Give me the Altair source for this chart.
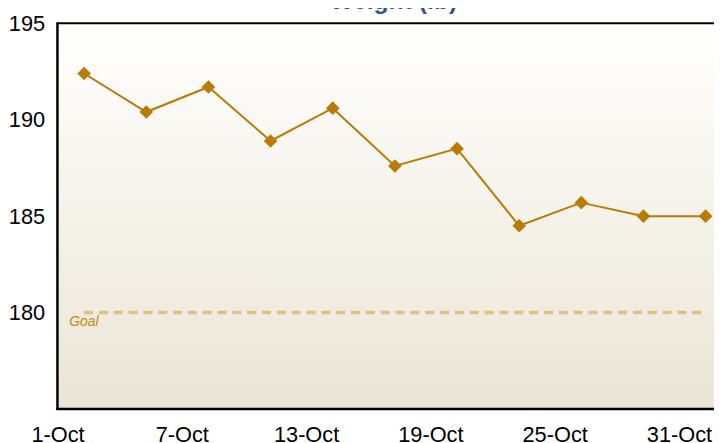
import altair as alt
import pandas as pd

# ---- data ----
dates = ["2023-10-02", "2023-10-05", "2023-10-08", "2023-10-11", "2023-10-14",
         "2023-10-17", "2023-10-20", "2023-10-23", "2023-10-26", "2023-10-29",
         "2023-11-01"]
weights = [192.4, 190.4, 191.7, 188.9, 190.6, 187.6, 188.5, 184.5, 185.7, 185.0, 185.0]
x_tick_days = [1, 7, 13, 19, 25, 31]
y_ticks = [180, 185, 190, 195]
goal_value = 180
goal_label = "Goal"
chart_title = "Weight (lb)"

W, H = 664, 390
LINE = "#B97A06"
FONT = "Liberation Sans"

df = pd.DataFrame({"date": dates, "weight": weights})
goal_df = pd.DataFrame({"start": [dates[0]], "end": [dates[-1]], "goal": [goal_value], "label": [goal_label]})

x_scale = alt.Scale(
    type="utc",
    domain=[alt.DateTime(year=2023, month=9, date=30, hours=17, minutes=4, utc=True),
            alt.DateTime(year=2023, month=11, date=1, hours=9, minutes=43, utc=True)],
)
y_scale = alt.Scale(domain=[175, 195], nice=False, zero=False)

x_axis = alt.Axis(
    values=[alt.DateTime(year=2023, month=10, date=d, utc=True) for d in x_tick_days],
    labelExpr="utcFormat(datum.value, '%-d-%b')", title=None, grid=False, domain=False,
    ticks=True, tickSize=8, tickColor="black", tickWidth=1.5, tickOffset=-6,
    offset=-8, labelPadding=16, labelFontSize=22, labelFont=FONT, labelColor="black",
    labelFlush=False, labelBound=False, labelOverlap=False,
)
y_axis = alt.Axis(
    values=y_ticks, title=None, grid=False, domain=False,
    ticks=True, tickSize=8, tickColor="black", tickWidth=1.5,
    offset=-8, labelPadding=13, labelFontSize=22, labelFont=FONT, labelColor="black",
    labelFlush=False, labelBound=False, labelOverlap=False,
)

x_enc = alt.X("date:T", scale=x_scale, axis=x_axis)
y_enc = alt.Y("weight:Q", scale=y_scale, axis=y_axis)

one = alt.Data(values=[{"a": 1}])

bg_gradient = alt.LinearGradient(
    gradient="linear", x1=0, y1=0, x2=0, y2=1,
    stops=[alt.GradientStop(color="#FFFFFE", offset=0),
           alt.GradientStop(color="#F4F1E8", offset=0.55),
           alt.GradientStop(color="#EAE5D5", offset=1)],
)
background = alt.Chart(one).mark_rect(fill=bg_gradient, strokeWidth=0).encode(
    x=alt.value(0), x2=alt.value(W), y=alt.value(0), y2=alt.value(H))

goal_rule = alt.Chart(goal_df).mark_rule(
    color="#DFC184", strokeWidth=3.5, strokeDash=[9, 6]
).encode(
    x=alt.X("start:T", scale=x_scale, axis=x_axis),
    x2="end:T",
    y=alt.Y("goal:Q", scale=y_scale, axis=y_axis),
)

goal_text = alt.Chart(goal_df).mark_text(
    align="left", baseline="alphabetic", dy=14, fontStyle="italic",
    fontSize=14, font=FONT, color="#C08A14"
).encode(
    x=alt.value(12),
    y=alt.Y("goal:Q", scale=y_scale, axis=y_axis),
    text="label:N",
)

line = alt.Chart(df).mark_line(color=LINE, strokeWidth=2).encode(x=x_enc, y=y_enc)
points = alt.Chart(df).mark_point(
    shape="diamond", filled=True, size=190, color=LINE, opacity=1
).encode(x=x_enc, y=y_enc)

frame_top = alt.Chart(one).mark_rule(color="black", strokeWidth=2).encode(
    y=alt.value(0), x=alt.value(0), x2=alt.value(W + 2))
frame_left = alt.Chart(one).mark_rule(color="black", strokeWidth=2.5).encode(
    x=alt.value(0), y=alt.value(-1), y2=alt.value(H + 1))
frame_bottom = alt.Chart(one).mark_rule(color="black", strokeWidth=2.5).encode(
    y=alt.value(H), x=alt.value(-1), x2=alt.value(W + 2))

title_mark = alt.Chart(one).mark_text(
    align="center", baseline="alphabetic", fontSize=25, fontWeight="bold",
    font=FONT, color="#2F5597"
).encode(x=alt.value(340), y=alt.value(-14.5), text=alt.value(chart_title))

chart = alt.layer(
    background, goal_rule, goal_text, line, points, frame_top, frame_left, frame_bottom, title_mark
).properties(
    width=W, height=H,
    autosize=alt.AutoSizeParams(type="none"),
    padding={"left": 50, "top": 13, "right": 0, "bottom": 40},
    background="white",
).configure_view(
    strokeWidth=0,
)

chart.save("out.html", embed_options={"renderer": "svg", "actions": False})
